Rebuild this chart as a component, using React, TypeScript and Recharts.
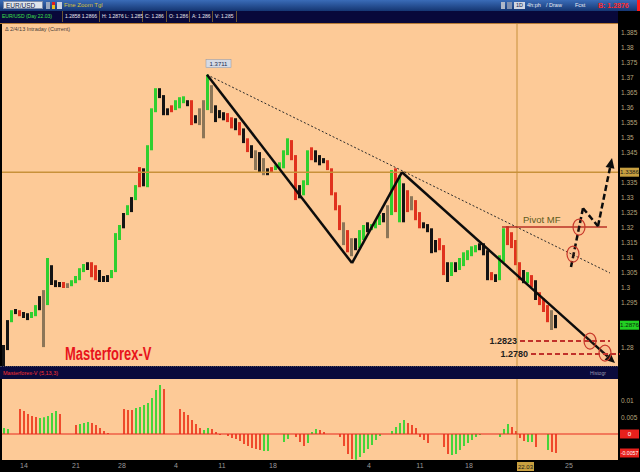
import { ComposedChart, Bar, Cell, XAxis, YAxis, ReferenceLine, ReferenceDot } from 'recharts';

// EUR/USD bars, one slot every 4px. tone: k = flat, g = up, r = down, n = doji
const highs = [
  1.2810, 1.2893, 1.2926, 1.2930, 1.2926, 1.2920, 1.2916, 1.2920, 1.2943, 1.2973,
  1.2993, 1.3100, 1.3076, 1.3026, 1.3020, 1.3020, 1.3016, 1.3026, 1.3040, 1.3066,
  1.3080, 1.3086, 1.3086, 1.3076, 1.3060, 1.3040, 1.3043, 1.3060, 1.3183, 1.3210,
  1.3250, 1.3276, 1.3303, 1.3343, 1.3403, 1.3399, 1.3476, 1.3599, 1.3666, 1.3666,
  1.3643, 1.3599, 1.3609, 1.3626, 1.3636, 1.3639, 1.3626, 1.3626, 1.3576, 1.3599,
  1.3626, 1.3711, 1.3676, 1.3609, 1.3593, 1.3586, 1.3583, 1.3569, 1.3566, 1.3553,
  1.3532, 1.3499, 1.3476, 1.3459, 1.3453, 1.3433, 1.3399, 1.3403, 1.3409, 1.3419,
  1.3459, 1.3499, 1.3493, 1.3443, 1.3343, 1.3359, 1.3459, 1.3469, 1.3459, 1.3443,
  1.3433, 1.3426, 1.3399, 1.3319, 1.3276, 1.3219, 1.3193, 1.3166, 1.3166, 1.3193,
  1.3210, 1.3219, 1.3213, 1.3226, 1.3243, 1.3250, 1.3276, 1.3393, 1.3399, 1.3376,
  1.3349, 1.3326, 1.3306, 1.3293, 1.3253, 1.3219, 1.3213, 1.3199, 1.3160, 1.3166,
  1.3143, 1.3086, 1.3086, 1.3086, 1.3100, 1.3119, 1.3126, 1.3139, 1.3143, 1.3149,
  1.3149, 1.3126, 1.3053, 1.3046, 1.3109, 1.3199, 1.3206, 1.3186, 1.3160, 1.3086,
  1.3060, 1.3053, 1.3043, 1.3026, 1.2986, 1.2966, 1.2943, 1.2926, 1.2910,
];
const lows = [
  1.2740, 1.2793, 1.2886, 1.2913, 1.2906, 1.2900, 1.2893, 1.2900, 1.2906, 1.2926,
  1.2803, 1.2943, 1.3010, 1.3003, 1.3003, 1.3000, 1.3000, 1.3006, 1.3016, 1.3026,
  1.3053, 1.3060, 1.3036, 1.3026, 1.3020, 1.3020, 1.3020, 1.3033, 1.3053, 1.3160,
  1.3199, 1.3243, 1.3253, 1.3293, 1.3336, 1.3339, 1.3336, 1.3459, 1.3586, 1.3633,
  1.3576, 1.3576, 1.3586, 1.3593, 1.3599, 1.3616, 1.3606, 1.3543, 1.3549, 1.3543,
  1.3499, 1.3593, 1.3583, 1.3553, 1.3566, 1.3559, 1.3553, 1.3532, 1.3526, 1.3509,
  1.3483, 1.3453, 1.3433, 1.3393, 1.3386, 1.3376, 1.3376, 1.3386, 1.3393, 1.3399,
  1.3399, 1.3443, 1.3426, 1.3293, 1.3299, 1.3309, 1.3343, 1.3426, 1.3419, 1.3409,
  1.3416, 1.3393, 1.3309, 1.3259, 1.3193, 1.3143, 1.3119, 1.3106, 1.3126, 1.3133,
  1.3160, 1.3186, 1.3193, 1.3199, 1.3210, 1.3219, 1.3166, 1.3243, 1.3253, 1.3219,
  1.3219, 1.3253, 1.3259, 1.3226, 1.3199, 1.3199, 1.3186, 1.3116, 1.3119, 1.3126,
  1.3043, 1.3020, 1.3040, 1.3053, 1.3060, 1.3073, 1.3093, 1.3106, 1.3119, 1.3126,
  1.3109, 1.3026, 1.3026, 1.3020, 1.3026, 1.3086, 1.3143, 1.3133, 1.3076, 1.3026,
  1.3016, 1.3016, 1.3003, 1.2960, 1.2943, 1.2920, 1.2886, 1.2860, 1.2866,
];
const barTone = (
  'kkgkrkkggk' + 'ngkkkrnggg' + 'gkrrkkkggg' + 'kgkgrkgggk' + 'kkrgggkrkn' +
  'ngnkkkrrkr' + 'krknknkrgg' + 'ggrrkggrkk' + 'krrrrnrnkg' + 'gkgggkngrg' +
  'krnrrkkkkr' + 'rkgkgggggk' + 'kkrkggrrrr' + 'kgrkrrrnk'
).split('');

// Masterforex-V oscillator, same slots
const oscValues = [
  0.0018, 0.0015, 0, 0, 0.0075, 0.0069, 0.0060, 0.0054, 0.0051, 0.0048,
  0.0050, 0.0054, 0.0063, 0.0069, 0.0060, 0, 0, 0, 0.0027, 0.0030,
  0.0033, 0.0036, 0.0033, 0.0027, 0.0018, 0.0009, 0.0003, 0, 0, 0,
  0.0075, 0.0072, 0.0072, 0.0078, 0.0081, 0.0087, 0.0093, 0.0108, 0.0132, 0.0147,
  0.0135, 0, 0, 0, 0.0075, 0.0066, 0.0057, 0.0042, 0.0030, 0.0018,
  0.0012, 0.0018, 0.0015, 0.0006, -0.0003, 0, -0.0006, -0.0012, -0.0015, -0.0021,
  -0.0030, -0.0036, -0.0042, -0.0045, -0.0048, -0.0051, -0.0051, 0, 0, 0,
  -0.0024, -0.0015, 0, -0.0009, -0.0024, -0.0036, -0.0027, 0.0006, 0.0015, 0.0012,
  0.0006, 0, 0, 0, -0.0009, -0.0036, -0.0060, -0.0075, -0.0077, -0.0069,
  -0.0057, -0.0045, -0.0033, -0.0018, -0.0006, 0, 0, 0.0009, 0.0021, 0.0033,
  0.0042, 0.0033, 0.0027, 0.0018, -0.0009, -0.0018, -0.0027, 0, 0, 0,
  -0.0039, -0.0060, -0.0063, -0.0060, -0.0048, -0.0036, -0.0027, -0.0018, -0.0009, -0.0003,
  0, 0, 0, 0, -0.0009, 0.0015, 0.0030, 0.0021, 0.0009, -0.0012,
  -0.0021, -0.0024, -0.0024, -0.0039, 0, 0, -0.0048, -0.0054, -0.0057,
];
const oscTone = (
  'ggggrrrrrg' + 'ggggrgggrg' + 'ggrrrrrggg' + 'rrrggggggg' + 'rgggrrrrrr' +
  'ggrrrgrrrr' + 'rrrrrggggg' + 'gggrrrgggr' + 'rgggrrrrgg' + 'gggggggggg' +
  'grrrrrrggg' + 'rrgggggggg' + 'gggggggrrr' + 'rggrgggrr'
).split('');

const dateTicks = [5, 18, 29.5, 43, 54.5, 67.25, 91.25, 104, 116.25, 141.25];
const dateLabels = ['14', '21', '28', '4', '11', '18', '4', '11', '18', '25'];

const allPriceTicks = [
  1.275, 1.28, 1.285, 1.29, 1.295, 1.3, 1.305, 1.31, 1.315, 1.32, 1.325, 1.33,
  1.335, 1.34, 1.345, 1.35, 1.355, 1.36, 1.365, 1.37, 1.375, 1.38, 1.385,
];
const oscTicks = [0.005, 0.01];

// drawn studies, points as [slot, price]
const wavePath = [[50.75, 1.3711], [87, 1.3083], [99.5, 1.3386], [152.75, 1.2750]];
const trendPath = [[50.75, 1.3711], [151.5, 1.3050]];
const forecastPath = [[141.75, 1.3070], [144.75, 1.3266], [148.5, 1.3206], [152, 1.3433]];
const pivotMF = { from: 124.5, to: 150.75, price: 1.3203 };
const targets = [
  { price: 1.2823, from: 129, to: 151.5 },
  { price: 1.2780, from: 131.75, to: 154 },
];
const rings = [[142.25, 1.3113], [143.75, 1.3203], [146.5, 1.2823], [150.25, 1.2783]];
const peak = { slot: 50.75, price: 1.3711 };
const crossSlot = 128.25;
const crossPrice = 1.3386;
const crossDate = '22.03';
const lastPrice = 1.2876;

const TONE: Record<string, string> = { k: '#141414', g: '#2fcf2f', r: '#e0321e', n: '#8c7658' };
const OSC_TONE: Record<string, string> = { g: '#45d43a', r: '#ef4a2c' };
const PEACH = '#fdca97';
const PLOT_RIGHT = 618;
const X_DOMAIN: [number, number] = [-0.5, 153.5];

// price tags sit on top of the axis labels they would cover
const priceTicks = allPriceTicks.filter(
  (t) => Math.abs(t - crossPrice) > 0.003 && Math.abs(t - lastPrice) > 0.003,
);

const bars = highs.map((h, i) => ({ i, range: [lows[i], h] }));
const oscRows = oscValues.map((v, i) => ({ i, osc: v }));

const fmtPrice = (v: number) => String(+v.toFixed(3));
const fmtTag = (v: number) => v.toFixed(4);

function ArrowLine(props: any) {
  const { x1, y1, x2, y2, stroke, strokeWidth, strokeDasharray } = props;
  const a = Math.atan2(y2 - y1, x2 - x1);
  const len = 10;
  const half = 4.5;
  const bx = x2 - len * Math.cos(a);
  const by = y2 - len * Math.sin(a);
  const p1 = `${bx + half * Math.sin(a)},${by - half * Math.cos(a)}`;
  const p2 = `${bx - half * Math.sin(a)},${by + half * Math.cos(a)}`;
  return (
    <g>
      <line x1={x1} y1={y1} x2={bx} y2={by} stroke={stroke} strokeWidth={strokeWidth} strokeDasharray={strokeDasharray} />
      <polygon points={`${x2},${y2} ${p1} ${p2}`} fill={stroke} />
    </g>
  );
}

function Ring(props: any) {
  const { cx, cy } = props;
  return <ellipse cx={cx} cy={cy} rx={6} ry={8} fill="rgba(220,90,70,0.08)" stroke="#c8392b" strokeWidth={1.2} />;
}

function PeakTag(props: any) {
  const { cx, cy } = props;
  return (
    <g>
      <rect x={cx - 1} y={cy - 15} width={25} height={8} fill="#d5dae4" stroke="#8a94a8" strokeWidth={0.5} />
      <text x={cx + 11.5} y={cy - 8.6} fontSize={6} textAnchor="middle" fill="#1c2a50">{fmtTag(peak.price)}</text>
    </g>
  );
}

function AxisTag({ viewBox, text, bg, fg }: any) {
  if (!viewBox) return null;
  const x = viewBox.x + viewBox.width + 2;
  const y = viewBox.y;
  return (
    <g>
      <rect x={x} y={y - 4.5} width={19} height={9} fill={bg} />
      <text x={x + 9.5} y={y + 2.2} textAnchor="middle" fontSize={text.length > 6 ? 5.2 : 6.2} fill={fg}>{text}</text>
    </g>
  );
}

function DateTag({ viewBox }: any) {
  if (!viewBox) return null;
  const x = viewBox.x;
  const y = viewBox.y + viewBox.height + 2;
  return (
    <g>
      <rect x={x} y={y} width={17} height={9} fill="#c8a040" />
      <text x={x + 8.5} y={y + 6.8} textAnchor="middle" fontSize={6} fill="#1a1a1a">{crossDate}</text>
    </g>
  );
}

function PivotLabel({ viewBox }: any) {
  if (!viewBox) return null;
  return <text x={viewBox.x + 21} y={viewBox.y - 4} fontSize={9.5} fill="#5c5a1c">Pivot MF</text>;
}

const seg = (a: number[], b: number[]) => [{ x: a[0], y: a[1] }, { x: b[0], y: b[1] }];

const cellStyle = (left: number, width: number, color = '#e8e8f0') => ({
  position: 'absolute' as const, left, top: 0, width, height: 11, lineHeight: '11px',
  fontSize: 5, color, borderRight: '1px solid #6b5633', paddingLeft: 2, boxSizing: 'border-box' as const,
  whiteSpace: 'nowrap' as const,
});

export default function App() {
  return (
    <div style={{ position: 'fixed', left: 0, top: 0, width: 640, height: 472, background: '#000', overflow: 'hidden', fontFamily: '"Liberation Sans", Arial, sans-serif' }}>
      {/* toolbar */}
      <div style={{ position: 'absolute', left: 0, top: 0, width: 640, height: 11, background: 'linear-gradient(#3a6cb8, #153672)' }}>
        <div style={{ position: 'absolute', left: 3, top: 1, width: 40, height: 8, background: '#dfe4ec', border: '1px solid #7d8cab', fontSize: 6.5, lineHeight: '7px', color: '#14224a', paddingLeft: 2, boxSizing: 'border-box' }}>EUR/USD</div>
        <div style={{ position: 'absolute', left: 46, top: 2, width: 4, height: 7, background: '#9aa8c0' }} />
        <div style={{ position: 'absolute', left: 52, top: 2, width: 3, height: 3, background: '#e02020' }} />
        <div style={{ position: 'absolute', left: 52, top: 5, width: 3, height: 4, background: '#e8c020' }} />
        <div style={{ position: 'absolute', left: 57, top: 2, width: 5, height: 7, background: '#c8d0e0' }} />
        <div style={{ position: 'absolute', left: 64, top: 2, fontSize: 6, lineHeight: '7px', color: '#d8c040' }}>Fine Zoom  Tgl</div>
        <div style={{ position: 'absolute', left: 501, top: 2, width: 4, height: 7, background: '#b0b8c8' }} />
        <div style={{ position: 'absolute', left: 507, top: 2, width: 5, height: 7, background: '#8090b0' }} />
        <div style={{ position: 'absolute', left: 514, top: 2, width: 11, height: 7, background: '#d0d6e2', fontSize: 5.5, lineHeight: '7px', color: '#102050', textAlign: 'center' }}>1D</div>
        <div style={{ position: 'absolute', left: 527, top: 2, fontSize: 5.5, lineHeight: '7px', color: '#e8ecf4' }}>4h:ph</div>
        <div style={{ position: 'absolute', left: 546, top: 2, fontSize: 5.5, lineHeight: '7px', color: '#e8ecf4' }}>/ Draw</div>
        <div style={{ position: 'absolute', left: 575, top: 2, fontSize: 5.5, lineHeight: '7px', color: '#e8ecf4' }}>Fcst</div>
        <div style={{ position: 'absolute', left: 598, top: 1, fontSize: 7, lineHeight: '9px', color: '#ff2a2a', fontWeight: 'bold' }}>B: {fmtTag(lastPrice)}</div>
        <div style={{ position: 'absolute', left: 637, top: 0, width: 3, height: 11, background: '#ff1a1a' }} />
      </div>

      {/* quote strip */}
      <div style={{ position: 'absolute', left: 0, top: 11, width: PLOT_RIGHT, height: 12, background: '#08083a', borderBottom: '1px solid #b57a35' }}>
        <div style={cellStyle(0, 63, '#3ee04a')}>EUR/USD (Day 22.03)</div>
        <div style={cellStyle(63, 37)}>1.2858 1.2866</div>
        <div style={cellStyle(100, 43)}>H: 1.2876 L: 1.285</div>
        <div style={cellStyle(143, 24)}>C: 1.286</div>
        <div style={cellStyle(167, 23)}>O: 1.286</div>
        <div style={cellStyle(190, 23)}>A: 1.286</div>
        <div style={cellStyle(213, 24)}>V: 1.285</div>
      </div>

      {/* panel backgrounds */}
      <div style={{ position: 'absolute', left: 2, top: 24, width: PLOT_RIGHT - 2, height: 342, background: PEACH }} />
      <div style={{ position: 'absolute', left: 5, top: 26, fontSize: 5.5, lineHeight: '7px', color: '#4a4038' }}>Δ 2/4/13 Intraday (Current)</div>
      <div style={{ position: 'absolute', left: 0, top: 366, width: PLOT_RIGHT, height: 13, background: '#0a0a3c', borderTop: '1px dotted #4a4a5a', boxSizing: 'border-box' }}>
        <div style={{ position: 'absolute', left: 3, top: 2, fontSize: 5.5, lineHeight: '8px', color: '#ff3030' }}>Masterforex-V (5,13,3)</div>
        <div style={{ position: 'absolute', left: 590, top: 2, fontSize: 5, lineHeight: '8px', color: '#9a9ab0' }}>Histogr</div>
      </div>
      <div style={{ position: 'absolute', left: 2, top: 379, width: PLOT_RIGHT - 2, height: 81, background: PEACH }} />

      <div style={{ position: 'absolute', left: 65, top: 344, fontSize: 18, lineHeight: '20px', fontWeight: 'bold', color: '#e8141c', transform: 'scaleX(0.72)', transformOrigin: 'left top', whiteSpace: 'nowrap' }}>Masterforex-V</div>

      {/* price panel */}
      <div style={{ position: 'absolute', left: 0, top: 24 }}>
        <ComposedChart width={640} height={342} data={bars} margin={{ top: 0, right: 0, bottom: 0, left: 2 }}>
          <XAxis dataKey="i" type="number" domain={X_DOMAIN} allowDataOverflow hide />
          <YAxis
            orientation="right"
            width={640 - PLOT_RIGHT}
            domain={[1.274, 1.388]}
            ticks={priceTicks}
            allowDataOverflow
            axisLine={false}
            tickLine={false}
            tickSize={0}
            tickMargin={3}
            tickFormatter={fmtPrice}
            tick={{ fontSize: 6.5, fill: '#b8a47c' }}
          />
          <ReferenceLine y={crossPrice} stroke="#c8913a" strokeWidth={1.5} label={<AxisTag text={fmtTag(crossPrice)} bg="#c8a040" fg="#1a1a1a" />} />
          <ReferenceLine x={crossSlot} stroke="#c8913a" strokeWidth={1} />
          <Bar dataKey="range" barSize={3} isAnimationActive={false}>
            {bars.map((b, i) => <Cell key={i} fill={TONE[barTone[i]]} />)}
          </Bar>
          <ReferenceLine ifOverflow="visible" segment={seg(trendPath[0], trendPath[1])} stroke="#2a2a2a" strokeWidth={1} strokeDasharray="2 2" />
          <ReferenceLine ifOverflow="visible" segment={seg(wavePath[0], wavePath[1])} stroke="#0c0c0c" strokeWidth={2.5} />
          <ReferenceLine ifOverflow="visible" segment={seg(wavePath[1], wavePath[2])} stroke="#0c0c0c" strokeWidth={2.5} />
          <ReferenceLine ifOverflow="visible" segment={seg(wavePath[2], wavePath[3])} stroke="#0c0c0c" strokeWidth={2.5} shape={ArrowLine} />
          <ReferenceLine
            ifOverflow="visible"
            segment={[{ x: pivotMF.from, y: pivotMF.price }, { x: pivotMF.to, y: pivotMF.price }]}
            stroke="#b83226"
            strokeWidth={1.5}
            label={<PivotLabel />}
          />
          {targets.map((t) => (
            <ReferenceLine
              key={t.price}
              ifOverflow="visible"
              segment={[{ x: t.from, y: t.price }, { x: t.to, y: t.price }]}
              stroke="#c0302a"
              strokeWidth={2}
              strokeDasharray="5 3"
              label={{ value: t.price.toFixed(4), position: 'left', offset: 3, fontSize: 9, fontWeight: 'bold', fill: '#1e1e1e' }}
            />
          ))}
          <ReferenceLine ifOverflow="visible" segment={seg(forecastPath[0], forecastPath[1])} stroke="#0c0c0c" strokeWidth={2.5} strokeDasharray="6 3" />
          <ReferenceLine ifOverflow="visible" segment={seg(forecastPath[1], forecastPath[2])} stroke="#0c0c0c" strokeWidth={2.5} strokeDasharray="6 3" />
          <ReferenceLine ifOverflow="visible" segment={seg(forecastPath[2], forecastPath[3])} stroke="#0c0c0c" strokeWidth={2.5} strokeDasharray="6 3" shape={ArrowLine} />
          {rings.map((r, i) => (
            <ReferenceDot key={i} x={r[0]} y={r[1]} ifOverflow="visible" shape={Ring} />
          ))}
          <ReferenceDot x={peak.slot} y={peak.price} ifOverflow="visible" shape={PeakTag} />
          <ReferenceLine y={lastPrice} stroke="none" label={<AxisTag text={fmtTag(lastPrice)} bg="#22d022" fg="#0a2a0a" />} />
        </ComposedChart>
      </div>

      {/* oscillator panel */}
      <div style={{ position: 'absolute', left: 0, top: 379 }}>
        <ComposedChart width={640} height={93} data={oscRows} margin={{ top: 0, right: 0, bottom: 0, left: 2 }}>
          <XAxis
            dataKey="i"
            type="number"
            domain={X_DOMAIN}
            allowDataOverflow
            ticks={dateTicks}
            tickFormatter={(v: number) => dateLabels[dateTicks.indexOf(v)] ?? ''}
            height={12}
            axisLine={false}
            tickLine={false}
            tickSize={2}
            tickMargin={1}
            tick={{ fontSize: 7, fill: '#9a9a9a' }}
          />
          <YAxis
            orientation="right"
            width={640 - PLOT_RIGHT}
            domain={[-0.0078, 0.0165]}
            ticks={oscTicks}
            allowDataOverflow
            axisLine={false}
            tickLine={false}
            tickSize={0}
            tickMargin={3}
            tickFormatter={(v: number) => String(v)}
            tick={{ fontSize: 6.5, fill: '#b8a47c' }}
          />
          <ReferenceLine x={crossSlot} stroke="#c8913a" strokeWidth={1} label={<DateTag />} />
          <ReferenceLine y={0} stroke="#e8281e" strokeWidth={1.2} label={<AxisTag text="0" bg="#e8201c" fg="#ffffff" />} />
          <Bar dataKey="osc" barSize={2} isAnimationActive={false}>
            {oscRows.map((r, i) => <Cell key={i} fill={OSC_TONE[oscTone[i]]} />)}
          </Bar>
          <ReferenceLine
            y={oscValues[oscValues.length - 1]}
            stroke="none"
            label={<AxisTag text={oscValues[oscValues.length - 1].toFixed(4)} bg="#e8201c" fg="#ffffff" />}
          />
        </ComposedChart>
      </div>
    </div>
  );
}
